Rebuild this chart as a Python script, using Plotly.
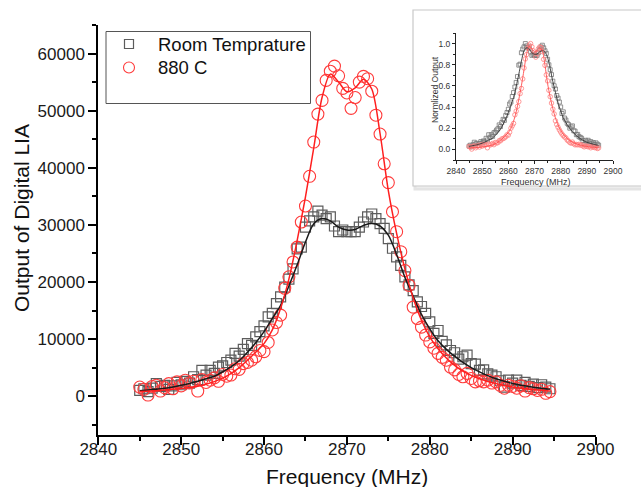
import plotly.graph_objects as go

# ---------------- data ----------------
freq = [
    2845.0, 2845.5, 2846.0, 2846.5, 2847.0, 2847.5, 2848.0, 2848.5, 2849.0, 2849.5,
    2850.0, 2850.5, 2851.0, 2851.5, 2852.0, 2852.5, 2853.0, 2853.5, 2854.0, 2854.5,
    2855.0, 2855.5, 2856.0, 2856.5, 2857.0, 2857.5, 2858.0, 2858.5, 2859.0, 2859.5,
    2860.0, 2860.5, 2861.0, 2861.5, 2862.0, 2862.5, 2863.0, 2863.5, 2864.0, 2864.5,
    2865.0, 2865.5, 2866.0, 2866.5, 2867.0, 2867.5, 2868.0, 2868.5, 2869.0, 2869.5,
    2870.0, 2870.5, 2871.0, 2871.5, 2872.0, 2872.5, 2873.0, 2873.5, 2874.0, 2874.5,
    2875.0, 2875.5, 2876.0, 2876.5, 2877.0, 2877.5, 2878.0, 2878.5, 2879.0, 2879.5,
    2880.0, 2880.5, 2881.0, 2881.5, 2882.0, 2882.5, 2883.0, 2883.5, 2884.0, 2884.5,
    2885.0, 2885.5, 2886.0, 2886.5, 2887.0, 2887.5, 2888.0, 2888.5, 2889.0, 2889.5,
    2890.0, 2890.5, 2891.0, 2891.5, 2892.0, 2892.5, 2893.0, 2893.5, 2894.0, 2894.5,
]

room_temp = [
    1000, 1300, 800, 1400, 2200, 1700, 1900, 1200, 1800, 2400,
    2000, 2600, 2300, 3400, 2900, 4500, 3700, 4500, 4000, 5100,
    5300, 5900, 6300, 7500, 7000, 8200, 9200, 8900, 10400, 11300,
    12300, 13900, 14500, 16200, 17400, 19100, 20500, 22300, 25800, 26100,
    29600, 30700, 31400, 32400, 31700, 31100, 31400, 29800, 28800, 29100,
    28800, 28800, 28800, 29600, 30500, 31400, 31900, 31100, 30200, 29400,
    27600, 25900, 24400, 22900, 20900, 19500, 18500, 16500, 15700, 14500,
    13000, 11000, 11500, 9600, 9000, 8000, 7600, 6500, 6900, 7200,
    5700, 5600, 4500, 4600, 3900, 3700, 3400, 2700, 1600, 2800,
    2300, 2800, 1900, 2400, 1700, 2100, 1500, 2000, 1600, 1300,
]

c880 = [
    1600, 1200, 200, 1700, 1900, 900, 1500, 2200, 1300, 2500,
    1800, 2800, 2300, 2600, 900, 2900, 2400, 2800, 3200, 2600,
    3800, 3500, 3700, 4800, 4700, 5700, 5900, 6300, 6900, 8000,
    7800, 9400, 11600, 12900, 14200, 18900, 20900, 23500, 26100, 30500,
    33300, 38500, 44500, 49400, 51800, 55300, 56900, 57800, 56100, 53900,
    53100, 50400, 52300, 55000, 56000, 55600, 53400, 49200, 45900, 40700,
    37400, 32300, 28800, 25300, 22000, 19400, 15600, 13600, 12100, 10700,
    9500, 8400, 7500, 6800, 6300, 5100, 4600, 3800, 3400, 4000,
    3100, 2500, 2700, 2500, 2800, 2300, 2500, 1900, 1400, 1900,
    1700, 1400, 1800, 900, 1500, 1300, 1000, 1200, 500, 800,
]

fit_freq = [
    2845, 2846, 2847, 2848, 2849, 2850, 2851, 2852, 2853, 2854,
    2855, 2856, 2857, 2858, 2859, 2860, 2861, 2862, 2863, 2864,
    2865, 2866, 2867, 2868, 2869, 2870, 2871, 2872, 2873, 2874,
    2875, 2876, 2877, 2878, 2879, 2880, 2881, 2882, 2883, 2884,
    2885, 2886, 2887, 2888, 2889, 2890, 2891, 2892, 2893, 2894, 2894.5,
]

room_fit = [
    950, 1080, 1230, 1400, 1620, 1900, 2230, 2620, 3050, 3480,
    4250, 5150, 6200, 7700, 9350, 11300, 13600, 15900, 19300, 23000,
    27000, 30200, 31100, 30700, 29600, 29100, 29200, 29900, 30300, 29800,
    28200, 24800, 20800, 17500, 14300, 11800, 9700, 8200, 7000, 5900,
    5000, 4250, 3600, 3050, 2600, 2220, 1920, 1680, 1480, 1300, 1230,
]

c880_fit = [
    800, 880, 970, 1070, 1200, 1350, 1530, 1750, 2100, 2550,
    3150, 3950, 5000, 6300, 7700, 9200, 11600, 15400, 20500, 27300,
    34900, 43500, 52300, 56400, 55000, 53300, 54000, 55500, 53800, 46000,
    36000, 28500, 22300, 17200, 13300, 10400, 8300, 6700, 5400, 4400,
    3650, 3050, 2580, 2200, 1880, 1620, 1400, 1220, 1080, 950, 900,
]

series_names = ["Room Temprature", "880 C"]
x_ticks = [2840, 2850, 2860, 2870, 2880, 2890, 2900]
y_ticks = [0, 10000, 20000, 30000, 40000, 50000, 60000]
inset_y_ticks = [0.0, 0.2, 0.4, 0.6, 0.8, 1.0]

# normalised copies for the inset
room_max = max(room_temp)
c880_max = max(c880)
room_n = [v / room_max for v in room_temp]
c880_n = [v / c880_max for v in c880]
room_fit_n = [v / room_max for v in room_fit]
c880_fit_n = [v / c880_max for v in c880_fit]

# ---------------- figure ----------------
W, H = 641, 487
FONT = "Arial, Liberation Sans, sans-serif"


def px(x):
    return x / W


def py(y):
    return 1 - y / H


GRAY = "#5c5c5c"
RED = "#ff3b3b"

fig = go.Figure()

fig.add_trace(go.Scatter(
    x=freq, y=room_temp, mode="markers", name=series_names[0], showlegend=False,
    marker=dict(symbol="square-open", size=10, color=GRAY, line=dict(width=1.2)),
))
fig.add_trace(go.Scatter(
    x=freq, y=c880, mode="markers", name=series_names[1], showlegend=False,
    marker=dict(symbol="circle-open", size=12, color=RED, line=dict(width=1.1)),
))
fig.add_trace(go.Scatter(
    x=fit_freq, y=room_fit, mode="lines", showlegend=False,
    line=dict(color="#1a1a1a", width=1.5, shape="spline", smoothing=0.8),
))
fig.add_trace(go.Scatter(
    x=fit_freq, y=c880_fit, mode="lines", showlegend=False,
    line=dict(color="#ff1f1f", width=1.5, shape="spline", smoothing=0.8),
))

# inset traces
fig.add_trace(go.Scatter(
    x=freq, y=room_n, mode="markers", showlegend=False, xaxis="x2", yaxis="y2",
    marker=dict(symbol="square-open", size=4, color="#777777", line=dict(width=0.8)),
))
fig.add_trace(go.Scatter(
    x=freq, y=c880_n, mode="markers", showlegend=False, xaxis="x2", yaxis="y2",
    marker=dict(symbol="circle-open", size=4.5, color="#ff8080", line=dict(width=0.8)),
))
fig.add_trace(go.Scatter(
    x=fit_freq, y=room_fit_n, mode="lines", showlegend=False, xaxis="x2", yaxis="y2",
    line=dict(color="#333333", width=0.9, shape="spline", smoothing=0.8),
))
fig.add_trace(go.Scatter(
    x=fit_freq, y=c880_fit_n, mode="lines", showlegend=False, xaxis="x2", yaxis="y2",
    line=dict(color="#ff4d4d", width=0.9, shape="spline", smoothing=0.8),
))

main_axis = dict(
    showline=True, linecolor="black", linewidth=2, mirror=False,
    showgrid=False, zeroline=False,
    ticks="outside", ticklen=8, tickwidth=2, tickcolor="black",
    tickfont=dict(family=FONT, size=17, color="#1a1a1a"),
)
inset_axis = dict(
    showline=True, linecolor="#222222", linewidth=1, mirror=False,
    showgrid=False, zeroline=False,
    ticks="outside", ticklen=3, tickwidth=1, tickcolor="#222222",
    tickfont=dict(family=FONT, size=8.5, color="#333333"),
)

# legend drawn as a framed box with symbols and real text
legend_shapes = [
    dict(type="rect", xref="paper", yref="paper",
         x0=px(106), x1=px(310.5), y0=py(103.5), y1=py(31.5),
         line=dict(color="#555555", width=1), fillcolor="white", layer="above"),
    dict(type="rect", xref="paper", yref="paper",
         x0=px(124.5), x1=px(133.5), y0=py(48.5), y1=py(39.5),
         line=dict(color=GRAY, width=1.2), layer="above"),
    dict(type="circle", xref="paper", yref="paper",
         x0=px(123.5), x1=px(134.5), y0=py(73), y1=py(62),
         line=dict(color=RED, width=1.1), layer="above"),
]
legend_texts = [
    dict(text=series_names[0], x=px(156), y=py(44.5), xref="paper", yref="paper",
         showarrow=False, xanchor="left", yanchor="middle",
         font=dict(family=FONT, size=18.5, color="#111111")),
    dict(text=series_names[1], x=px(156), y=py(67.5), xref="paper", yref="paper",
         showarrow=False, xanchor="left", yanchor="middle",
         font=dict(family=FONT, size=18.5, color="#111111")),
]

fig.update_layout(
    width=W, height=H,
    margin=dict(l=0, r=0, t=0, b=0),
    paper_bgcolor="white", plot_bgcolor="rgba(0,0,0,0)",
    template="none",
    showlegend=False,
    font=dict(family=FONT, color="#111111"),
    xaxis=dict(
        **main_axis, domain=[px(98.3), px(595.5)], anchor="y",
        range=[2840, 2900], tickvals=x_ticks, ticklabelstandoff=-10,
        minor=dict(ticks="outside", ticklen=4, tickwidth=2, tickcolor="black",
                   tick0=2840, dtick=5),
    ),
    yaxis=dict(
        **main_axis, domain=[py(435), py(25)], anchor="x",
        range=[-6800, 65000], tickvals=y_ticks, tickformat="d",
        minor=dict(ticks="outside", ticklen=4, tickwidth=2, tickcolor="black",
                   tick0=0, dtick=5000),
    ),
    xaxis2=dict(
        **inset_axis, domain=[px(456), px(613)], anchor="y2",
        range=[2840, 2900], tickvals=x_ticks,
        minor=dict(ticks="outside", ticklen=2, tickwidth=1, tickcolor="#222222",
                   tick0=2840, dtick=5),
    ),
    yaxis2=dict(
        **inset_axis, domain=[py(160), py(33)], anchor="x2",
        range=[-0.1, 1.1], tickvals=inset_y_ticks, tickformat=".1f",
        minor=dict(ticks="outside", ticklen=2, tickwidth=1, tickcolor="#222222",
                   tick0=0, dtick=0.1),
    ),
    shapes=[
        dict(type="rect", xref="paper", yref="paper",
             x0=px(415), x1=1.01, y0=py(189), y1=py(12),
             line=dict(color="#e4e4e4", width=3), fillcolor="#f4f4f4", layer="below"),
        dict(type="rect", xref="paper", yref="paper",
             x0=px(413), x1=1.01, y0=py(186), y1=py(10),
             line=dict(color="#c8c8c8", width=1.2), fillcolor="white", layer="below"),
    ] + legend_shapes,
    annotations=[
        dict(text="Frequency (MHz)", x=px(347), y=py(476), xref="paper", yref="paper",
             showarrow=False, xanchor="center", yanchor="middle",
             font=dict(family=FONT, size=21, color="#111111")),
        dict(text="Output of Digital LIA", x=px(21), y=py(218), xref="paper", yref="paper",
             showarrow=False, xanchor="center", yanchor="middle", textangle=-90,
             font=dict(family=FONT, size=21, color="#111111")),
        dict(text="Frequency (MHz)", x=px(536), y=py(182), xref="paper", yref="paper",
             showarrow=False, xanchor="center", yanchor="middle",
             font=dict(family=FONT, size=9, color="#333333")),
        dict(text="Normlized Output", x=px(435), y=py(90), xref="paper", yref="paper",
             showarrow=False, xanchor="center", yanchor="middle", textangle=-90,
             font=dict(family=FONT, size=8.5, color="#333333")),
    ] + legend_texts,
)

fig.write_html("out.html")
